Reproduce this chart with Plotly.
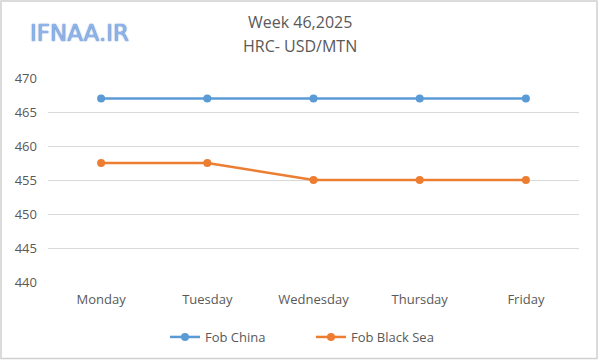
import plotly.graph_objects as go

days = ["Monday", "Tuesday", "Wednesday", "Thursday", "Friday"]
fob_china = [467, 467, 467, 467, 467]
fob_black_sea = [457.5, 457.5, 455, 455, 455]
y_ticks = [440, 445, 450, 455, 460, 465, 470]

FONT = "Open Sans, Liberation Sans, sans-serif"
GRAY = "#595959"

# plot area in window pixels
L, R, T, B = 48, 579, 78, 282
PW, PH = R - L, B - T

def px(x):
    return (x - L) / PW

def py(y):
    return (B - y) / PH

fig = go.Figure()
fig.add_trace(go.Scatter(x=days, y=fob_china, name="Fob China", mode="lines+markers",
                         line=dict(color="#5b9bd5", width=2.5),
                         marker=dict(color="#5b9bd5", size=8)))
fig.add_trace(go.Scatter(x=days, y=fob_black_sea, name="Fob Black Sea", mode="lines+markers",
                         line=dict(color="#ed7d31", width=2.5),
                         marker=dict(color="#ed7d31", size=8)))

fig.update_layout(
    width=600, height=360,
    margin=dict(l=L, r=600 - R, t=T, b=360 - B, autoexpand=False),
    paper_bgcolor="white", plot_bgcolor="white",
    font=dict(family=FONT, size=13, color=GRAY),
    showlegend=True,
    legend=dict(orientation="h", xref="container", yref="container",
                x=165 / 600, xanchor="left", y=1 - 337 / 360, yanchor="middle",
                font=dict(size=13, color=GRAY), entrywidth=101, itemwidth=30,
                bgcolor="rgba(0,0,0,0)"),
    xaxis=dict(range=[-0.5, 4.5], showgrid=False, showline=False, ticks="",
               ticklabelstandoff=8, tickfont=dict(size=13, color=GRAY)),
    yaxis=dict(range=[440, 470], tickvals=y_ticks, showgrid=True, gridcolor="#d9d9d9",
               gridwidth=1, zeroline=False, showline=False, ticks="",
               ticklabelstandoff=10, tickfont=dict(size=13, color=GRAY)),
    annotations=[
        dict(text="Week 46,2025", xref="paper", yref="paper", x=px(300), y=py(22),
             xanchor="center", yanchor="middle", showarrow=False,
             font=dict(size=16, color=GRAY, family=FONT)),
        dict(text="HRC- USD/MTN", xref="paper", yref="paper", x=px(300), y=py(46),
             xanchor="center", yanchor="middle", showarrow=False,
             font=dict(size=16, color=GRAY, family=FONT)),
        dict(text="IFNAA.IR", xref="paper", yref="paper", x=px(79), y=py(33),
             xanchor="center", yanchor="middle", showarrow=False,
             font=dict(size=23, color="#8db3e8", family="DejaVu Sans, sans-serif",
                       shadow="0px 0px 1.5px #2f5fb0")),
    ],
    shapes=[
        dict(type="rect", xref="paper", yref="paper",
             x0=px(1), x1=px(597), y0=py(358.5), y1=py(1),
             line=dict(color="#d0d0d0", width=1.5), fillcolor="rgba(0,0,0,0)", layer="below"),
    ],
)

fig.write_html("out.html", config={"displayModeBar": False},
               post_script="document.body.style.margin='0px';document.body.style.overflow='hidden';")
